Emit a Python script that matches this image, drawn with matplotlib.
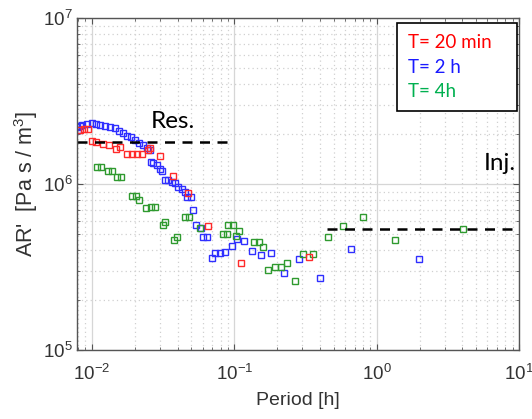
import numpy as np
import matplotlib
matplotlib.use('Agg')
import matplotlib.pyplot as plt
from matplotlib.patches import Rectangle
from matplotlib.ticker import LogLocator, NullFormatter

plt.rcParams['font.family'] = ['Liberation Sans', 'DejaVu Sans']
plt.rcParams['mathtext.default'] = 'regular'

# T = 20 min
period_20min = [0.00824, 0.00879, 0.00937, 0.0100, 0.01067, 0.01194, 0.01316, 0.01474,
                0.01572, 0.0176, 0.01909, 0.0207, 0.02244, 0.02472, 0.02553, 0.03001,
                0.03703, 0.04718, 0.06516, 0.1111, 0.3334]
ar_20min = [2.11e6, 2.14e6, 2.14e6, 1.82e6, 1.79e6, 1.74e6, 1.72e6, 1.62e6,
            1.67e6, 1.52e6, 1.52e6, 1.52e6, 1.52e6, 1.60e6, 1.65e6, 1.47e6,
            1.12e6, 8.83e5, 5.58e5, 3.34e5, 3.63e5]

# T = 2 h
period_2h = [0.00785, 0.00798, 0.00824, 0.00851, 0.00923, 0.0100, 0.01067, 0.01138,
             0.01234, 0.01337, 0.0145, 0.01547, 0.0165, 0.0176, 0.01878, 0.02003,
             0.02137, 0.0228, 0.02432, 0.02553, 0.02594, 0.0268, 0.02858, 0.03001,
             0.03099, 0.03253, 0.03415, 0.03643, 0.03825, 0.04014, 0.04282, 0.04494,
             0.04642, 0.04951, 0.05114, 0.05368, 0.0582, 0.06009, 0.06412, 0.06952,
             0.07298, 0.07911, 0.08577, 0.0960, 0.1041, 0.1166, 0.1327, 0.1535,
             0.1804, 0.2226, 0.2836, 0.398, 0.657, 1.971]
ar_2h = [2.20e6, 2.11e6, 2.23e6, 2.27e6, 2.30e6, 2.33e6, 2.30e6, 2.27e6,
         2.23e6, 2.20e6, 2.17e6, 2.09e6, 2.03e6, 1.95e6, 1.92e6, 1.84e6,
         1.77e6, 1.72e6, 1.65e6, 1.60e6, 1.36e6, 1.34e6, 1.30e6, 1.23e6,
         1.20e6, 1.06e6, 1.06e6, 1.03e6, 1.01e6, 9.6e5, 9.3e5, 8.95e5,
         8.35e5, 8.35e5, 6.97e5, 5.66e5, 5.43e5, 4.80e5, 4.80e5, 3.58e5,
         3.84e5, 3.84e5, 3.89e5, 4.24e5, 4.67e5, 4.54e5, 3.95e5, 3.73e5,
         3.84e5, 2.91e5, 3.53e5, 2.72e5, 4.06e5, 3.53e5]

# T = 4 h
period_4h = [0.01084, 0.01157, 0.01295, 0.01381, 0.01498, 0.01598, 0.01909, 0.02036,
             0.02137, 0.02393, 0.02594, 0.02768, 0.0315, 0.03253, 0.03763, 0.0395,
             0.04494, 0.04795, 0.05727, 0.08305, 0.0886, 0.09004, 0.09761, 0.1024,
             0.1075, 0.1370, 0.1486, 0.1585, 0.1718, 0.1924, 0.2121, 0.2336,
             0.2658, 0.3026, 0.3556, 0.453, 0.5772, 0.7977, 1.337, 4.013]
ar_4h = [1.27e6, 1.27e6, 1.20e6, 1.20e6, 1.10e6, 1.10e6, 8.47e5, 8.47e5,
         8.01e5, 7.16e5, 7.27e5, 7.27e5, 5.66e5, 5.90e5, 4.60e5, 4.80e5,
         6.32e5, 6.32e5, 5.43e5, 5.00e5, 5.00e5, 5.66e5, 5.66e5, 4.86e5,
         5.21e5, 4.48e5, 4.48e5, 4.17e5, 3.03e5, 3.16e5, 3.16e5, 3.34e5,
         2.61e5, 3.79e5, 3.79e5, 4.80e5, 5.58e5, 6.32e5, 4.60e5, 5.36e5]

# reference levels
res_level, res_span = 1.79e6, (0.00785, 0.1)
inj_level, inj_span = 5.36e5, (0.45, 10)

legend_labels = ['T= 20 min', 'T= 2 h', 'T= 4h']
red, blue, green = '#ff2a2a', '#2f2fff', '#2f9a2f'
legend_colors = ['#ff0000', '#1a1aff', '#00b050']

fig = plt.figure(figsize=(5.32, 4.19), dpi=100)
ax = fig.add_axes([0.1447, 0.1647, 0.8310, 0.7923])

mk = dict(marker='s', linestyle='none', markersize=4.8, markerfacecolor='none', markeredgewidth=1.0)
ax.plot(period_2h, ar_2h, color=blue, **mk)
ax.plot(period_4h, ar_4h, color=green, **mk)
ax.plot(period_20min, ar_20min, color=red, **mk)

ax.plot(res_span, [res_level, res_level], color='black', lw=1.8, dashes=(4, 3))
ax.plot(inj_span, [inj_level, inj_level], color='black', lw=1.8, dashes=(4, 3))

ax.set_xscale('log')
ax.set_yscale('log')
ax.set_xlim(0.00785, 10)
ax.set_ylim(1e5, 1e7)

ax.xaxis.set_major_locator(LogLocator(base=10, numticks=10))
ax.xaxis.set_minor_locator(LogLocator(base=10, subs=np.arange(2, 10), numticks=20))
ax.yaxis.set_minor_locator(LogLocator(base=10, subs=np.arange(2, 10), numticks=20))
ax.xaxis.set_minor_formatter(NullFormatter())
ax.yaxis.set_minor_formatter(NullFormatter())

ax.grid(True, which='major', color='#d6d6d6', lw=0.9, linestyle='-')
ax.grid(True, which='minor', color='#d0d0d0', lw=0.9, linestyle=(0, (1, 2.5)))
ax.set_axisbelow(True)

for s in ax.spines.values():
    s.set_color('#555555')
    s.set_linewidth(1.0)
ax.tick_params(which='both', direction='in', top=True, right=True, colors='#555555',
               labelcolor='#333333', labelsize=13.5)
ax.tick_params(which='major', length=4)
ax.tick_params(which='minor', length=2)
ax.tick_params(axis='x', pad=10)
ax.tick_params(axis='y', pad=3)

ax.set_xlabel('Period [h]', fontsize=14, color='#333333', labelpad=6)
ax.set_ylabel("AR'  [Pa s / m$^3$]", fontsize=15.5, color='#333333', labelpad=2)

ax.text(0.166, 0.687, 'Res.', transform=ax.transAxes, fontsize=17.5, family='Lato',
        ha='left', va='center')
ax.text(0.920, 0.563, 'Inj.', transform=ax.transAxes, fontsize=17.5, family='Lato',
        ha='left', va='center')

ax.add_patch(Rectangle((0.724, 0.720), 0.271, 0.265, transform=ax.transAxes,
                       facecolor='white', edgecolor='black', lw=1.2, zorder=5))
for i, (lab, c) in enumerate(zip(legend_labels, legend_colors)):
    ax.text(0.749, 0.925 - i * 0.073, lab, transform=ax.transAxes, color=c,
            fontsize=13.5, family='Lato', ha='left', va='center', zorder=6)

fig.savefig('out.png', dpi=100)
